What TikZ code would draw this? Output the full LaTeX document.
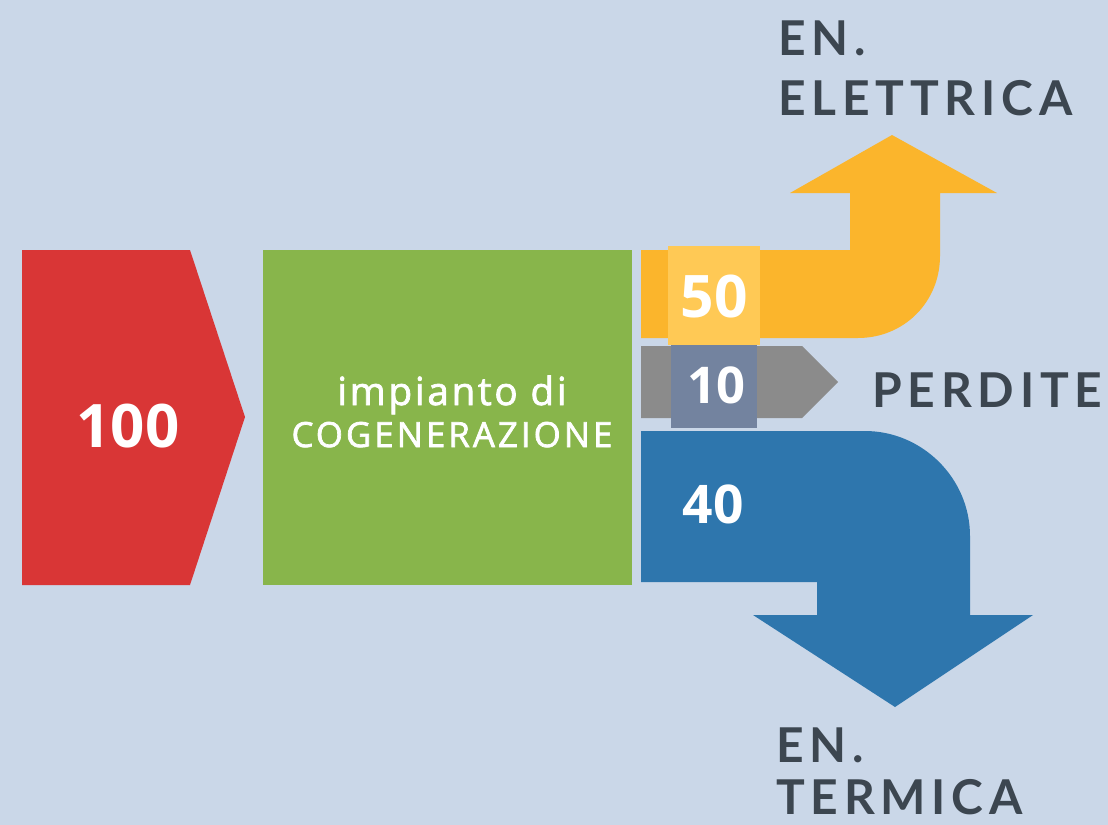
\documentclass[tikz,border=0pt]{standalone}
\usepackage{fontspec}
\setmainfont{Open Sans}
\newfontfamily\labfont[LetterSpace=12]{Lato}
\newfontfamily\boxfont[LetterSpace=9,FakeBold=2]{Open Sans}
\newfontfamily\boxfontb[LetterSpace=7,FakeBold=2]{Open Sans}
\definecolor{bgc}{HTML}{CAD7E8}
\definecolor{redc}{HTML}{D93636}
\definecolor{greenc}{HTML}{88B54B}
\definecolor{yelc}{HTML}{FBB52C}
\definecolor{yelbox}{HTML}{FFC955}
\definecolor{grayc}{HTML}{8B8B8B}
\definecolor{slatec}{HTML}{73839F}
\definecolor{bluec}{HTML}{2E76AD}
\definecolor{txtc}{HTML}{3C4650}
\tikzset{
  lab/.style={anchor=base west, inner sep=0pt, text=txtc, font=\labfont\bfseries\fontsize{36}{40}\selectfont},
  num/.style={anchor=base, inner sep=0pt, text=white, font=\bfseries},
  boxtxt/.style={anchor=base, inner sep=0pt, text=white, font=\boxfont\fontsize{26}{30}\selectfont}
}
\begin{document}
\begin{tikzpicture}[x=0.75pt,y=-0.75pt]
\fill[bgc] (0,0) rectangle (1108,825);
\useasboundingbox (0,0) rectangle (1108,825);
% input arrow
\fill[redc] (22,250) -- (190,250) -- (245,417) -- (190,585) -- (22,585) -- cycle;
% plant box
\fill[greenc] (263,250) rectangle (632,585);
% electric output
\fill[yelc] (641,250) -- (850,250) -- (850,193) -- (790,193) -- (892,135) -- (997,193) -- (940,193) -- (940,256)
  .. controls (940,302) and (904,338) .. (858,338) -- (641,338) -- cycle;
% losses
\fill[grayc] (641,346) -- (802,346) -- (838,382) -- (802,418) -- (641,418) -- cycle;
% thermal output
\fill[bluec] (641,431) -- (865,431) .. controls (922,431) and (970,478) .. (970,536) -- (970,615) -- (1033,615)
  -- (895,707) -- (753,615) -- (817,615) -- (817,582) -- (641,582) -- cycle;
% value boxes
\fill[slatec] (671,345) rectangle (757,428);
\fill[yelbox] (668,246) rectangle (760,345);
% texts
\node[num, font=\bfseries\fontsize{45}{50}\selectfont] (in) at (128,447) {100};
\node[boxtxt, font=\boxfontb\fontsize{29}{32}\selectfont] (impianto) at (452,405) {impianto di};
\node[boxtxt] (cogen) at (452,447) {COGENERAZIONE};
\node[num, font=\bfseries\fontsize{44}{48}\selectfont] (v50) at (714,317) {50};
\node[num, font=\bfseries\fontsize{38}{42}\selectfont] (v10) at (716,403) {10};
\node[num, font=\bfseries\fontsize{40}{44}\selectfont] (v40) at (713,523) {40};
\node[lab] (en1) at (778,55) {EN.};
\node[lab] (ele) at (778,115) {ELETTRICA};
\node[lab] (per) at (872,407) {PERDITE};
\node[lab] (en2) at (776,762) {EN.};
\node[lab] (ter) at (776,814) {TERMICA};
\end{tikzpicture}
\end{document}
